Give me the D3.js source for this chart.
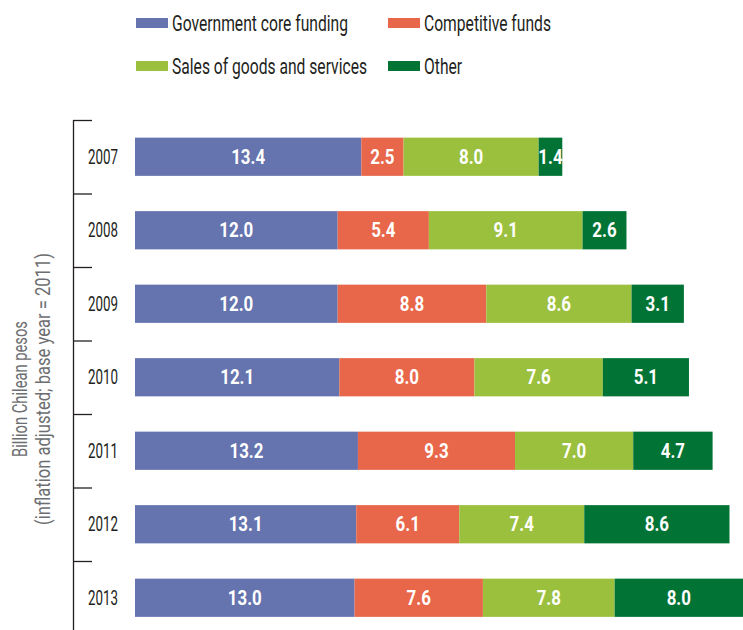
<!DOCTYPE html>
<html>
<head>
<meta charset="utf-8">
<script src="https://cdn.jsdelivr.net/npm/d3@7"></script>
<style>
  body { margin: 0; background: #fff; }
  svg text { font-family: Roboto, "Liberation Sans", sans-serif; }
</style>
</head>
<body>
<div id="chart"></div>
<script>
// Data
const years = ["2007", "2008", "2009", "2010", "2011", "2012", "2013"];
const seriesNames = ["Government core funding", "Competitive funds", "Sales of goods and services", "Other"];
const government = [13.4, 12.0, 12.0, 12.1, 13.2, 13.1, 13.0];
const competitive = [2.5, 5.4, 8.8, 8.0, 9.3, 6.1, 7.6];
const sales = [8.0, 9.1, 8.6, 7.6, 7.0, 7.4, 7.8];
const other = [1.4, 2.6, 3.1, 5.1, 4.7, 8.6, 8.0];
const colors = ["#6573ae", "#e8664a", "#9bc03e", "#017335"];

const width = 743;
const height = 630;

// Build table for stack
const table = years.map((y, i) => ({
    year: y,
    "Government core funding": government[i],
    "Competitive funds": competitive[i],
    "Sales of goods and services": sales[i],
    "Other": other[i]
}));
const stacked = d3.stack().keys(seriesNames)(table);

const svg = d3.select("#chart")
    .append("svg")
    .attr("width", width)
    .attr("height", height);

// the original uses a condensed face, so squeeze text to the widths
function squeezeTo(sel, refText, targetWidth, place) {
    const probe = svg.append("text")
        .attr("font-size", sel.attr("font-size"))
        .attr("font-weight", sel.attr("font-weight"))
        .text(refText);
    const s = targetWidth / probe.node().getComputedTextLength();
    probe.remove();
    sel.attr("transform", (d, i) => {
        const [px, py] = place(d, i);
        return `translate(${px},${py}) scale(${s},1)`;
    });
}

// Scales
const x = d3.scaleLinear()
    .domain([0, 36])
    .range([135, 743]);

const y = d3.scaleBand()
    .domain(years)
    .range([120, 120 + 73.5 * years.length])
    .paddingInner(0.48)
    .paddingOuter(0.24);

const color = d3.scaleOrdinal()
    .domain(seriesNames)
    .range(colors);

// Axis line and ticks between categories
svg.append("line")
    .attr("x1", 73.5).attr("x2", 73.5)
    .attr("y1", 120).attr("y2", height)
    .attr("stroke", "#231f20")
    .attr("stroke-width", 1.3);

const tickPos = years.map((d, i) => 120 + i * y.step());
svg.selectAll(".tick-line")
    .data(tickPos)
    .join("line")
    .attr("class", "tick-line")
    .attr("x1", 73).attr("x2", 92)
    .attr("y1", d => d + 0.5).attr("y2", d => d + 0.5)
    .attr("stroke", "#231f20")
    .attr("stroke-width", 1.3);

// Year labels
const yearLabels = svg.selectAll(".year")
    .data(years)
    .join("text")
    .attr("class", "year")
    .attr("dy", "0.36em")
    .attr("text-anchor", "end")
    .attr("font-size", 19.5)
    .attr("fill", "#231f20")
    .text(d => d);
squeezeTo(yearLabels, "2007", 30, d => [118, y(d) + y.bandwidth() / 2]);

// Bars
const groups = svg.selectAll(".series")
    .data(stacked)
    .join("g")
    .attr("class", "series")
    .attr("fill", d => color(d.key));

groups.selectAll("rect")
    .data(d => d)
    .join("rect")
    .attr("x", d => x(d[0]))
    .attr("y", d => y(d.data.year))
    .attr("width", d => x(d[1]) - x(d[0]))
    .attr("height", y.bandwidth());

// Value labels
const valueLabels = groups.selectAll("text")
    .data(d => d)
    .join("text")
    .attr("dy", "0.36em")
    .attr("text-anchor", "middle")
    .attr("font-size", 20)
    .attr("font-weight", "bold")
    .attr("fill", "#fff")
    .text(d => (d[1] - d[0]).toFixed(1));
squeezeTo(valueLabels, "13.4", 34,
    d => [(x(d[0]) + Math.min(x(d[1]), width)) / 2, y(d.data.year) + y.bandwidth() / 2]);

// Y axis title, two lines
const titleText = ["Billion Chilean pesos", "(inflation adjusted; base year = 2011)"];
const titleWidths = [136, 272];
const yTitle = svg.append("g")
    .attr("transform", "translate(0,389) rotate(-90)");
titleText.forEach((t, i) => {
    const line = yTitle.append("text")
        .datum(t)
        .attr("text-anchor", "middle")
        .attr("font-size", 21)
        .attr("fill", "#6d6e71")
        .text(t);
    squeezeTo(line, t, titleWidths[i], () => [0, 27 + i * 23]);
});

// Legend
const legendPos = [[136, 23], [388, 23], [136, 66], [388, 66]];
const legend = svg.selectAll(".legend")
    .data(seriesNames)
    .join("g")
    .attr("class", "legend")
    .attr("transform", (d, i) => `translate(${legendPos[i][0]},${legendPos[i][1]})`);

legend.append("rect")
    .attr("x", 0).attr("y", -5)
    .attr("width", 32).attr("height", 10)
    .attr("fill", d => color(d));

const legendText = legend.append("text")
    .attr("dy", "0.36em")
    .attr("font-size", 21.5)
    .attr("fill", "#231f20")
    .text(d => d);
squeezeTo(legendText, "Government core funding", 176, () => [36, 0]);
</script>
</body>
</html>
